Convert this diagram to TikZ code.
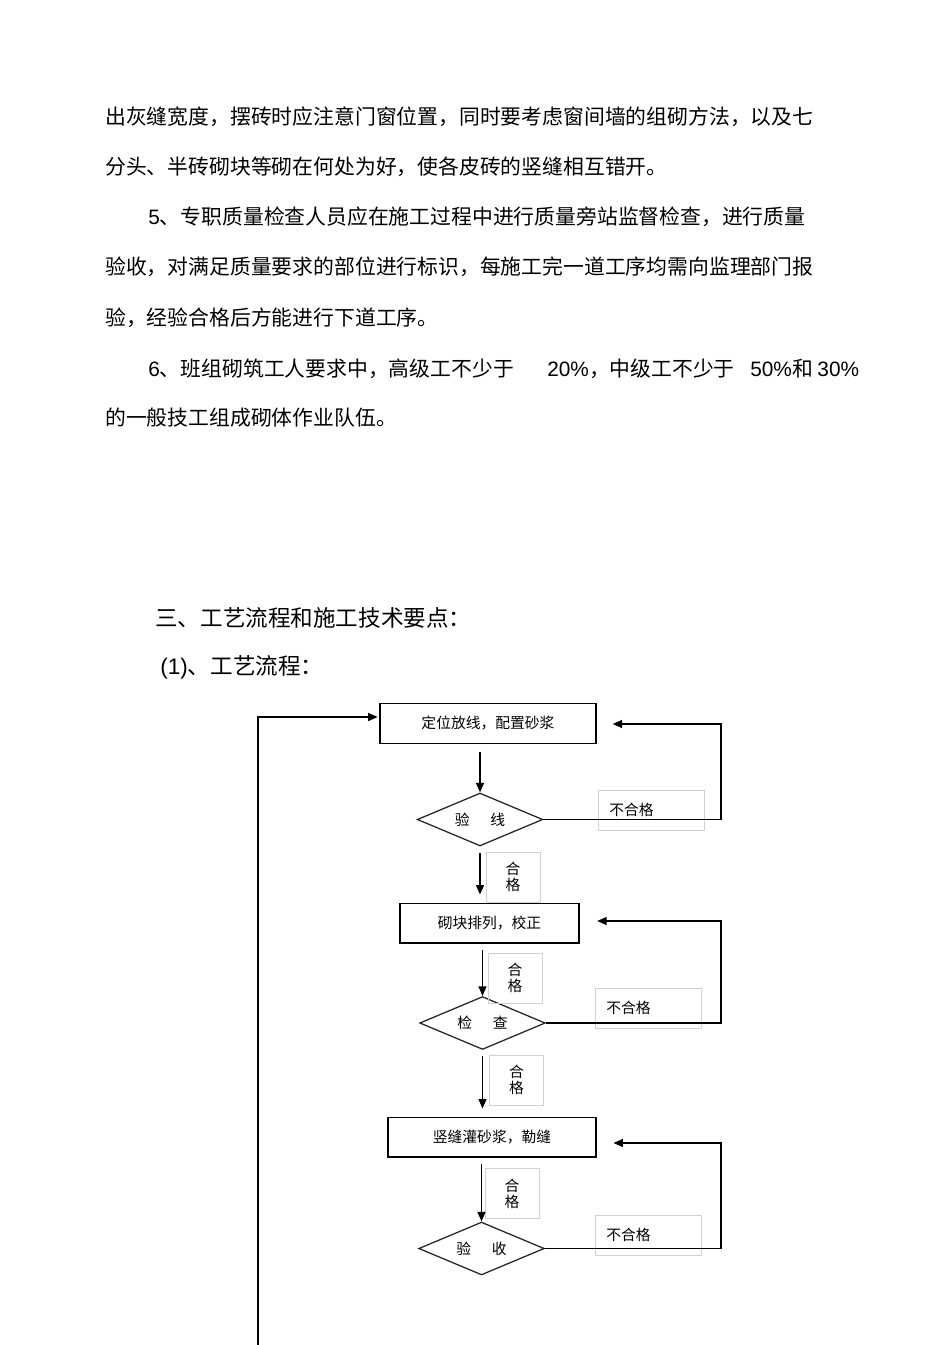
\documentclass[tikz,border=0pt]{standalone}
\usepackage{fontspec}
\setmainfont{Noto Sans CJK SC}
\newfontfamily\latinfont{Liberation Sans}
\usetikzlibrary{shapes.geometric, arrows.meta, positioning}

\begin{document}
\begin{tikzpicture}[
    x=0.022105cm, y=-0.022105cm,
    >={Triangle[length=6pt, width=5pt]},
    every node/.style={inner sep=0pt},
    bodytext/.style={anchor=west, font=\fontsize{13.1}{13.1}\selectfont},
    headtext/.style={anchor=west, font=\fontsize{14.2}{14.2}\selectfont},
    stepbox/.style={rectangle, draw=black, line width=0.8pt, minimum height=25pt,
        font=\fontsize{9.3}{10}\selectfont},
    checknode/.style={diamond, aspect=2.4, draw=black!85, line width=0.8pt, minimum width=79pt,
        minimum height=33.3pt, font=\fontsize{9.3}{10}\selectfont},
    passlabel/.style={rectangle, draw=black!18, line width=0.4pt, minimum width=34pt,
        minimum height=31.4pt, align=center, font=\fontsize{9.3}{10}\selectfont},
    faillabel/.style={rectangle, draw=black!18, line width=0.4pt, text width=53pt,
        inner xsep=7pt, minimum height=25pt, align=left, font=\fontsize{9.3}{10}\selectfont},
    flow/.style={->, line width=0.9pt},
]
\useasboundingbox (0,0) rectangle (950,1345);

% === BODY TEXT ===
\node[bodytext] (p1) at (105,117) {出灰缝宽度，摆砖时应注意门窗位置，同时要考虑窗间墙的组砌方法，以及七};
\node[bodytext] (p2) at (105,167) {分头、半砖砌块等砌在何处为好，使各皮砖的竖缝相互错开。};
\node[bodytext] (p3) at (148,217) {{\latinfont 5}、专职质量检查人员应在施工过程中进行质量旁站监督检查，进行质量};
\node[bodytext] (p4) at (105,267) {验收，对满足质量要求的部位进行标识，每施工完一道工序均需向监理部门报};
\node[bodytext] (p5) at (105,318) {验，经验合格后方能进行下道工序。};
\node[bodytext] (p6a) at (148,369) {{\latinfont 6}、班组砌筑工人要求中，高级工不少于};
\node[bodytext] (p6b) at (547,369) {{\latinfont 20\%}，中级工不少于};
\node[bodytext] (p6c) at (750,369) {{\latinfont 50\%}和 {\latinfont 30\%}};
\node[bodytext] (p7) at (105,418) {的一般技工组成砌体作业队伍。};

% === HEADINGS ===
\node[headtext] (h1) at (155,618) {三、工艺流程和施工技术要点：};
\node[headtext] (h2) at (160,667) {{\latinfont (1)}、工艺流程：};

% === FLOW STEPS ===
\node[stepbox, minimum width=136pt] (b1) at (488,723.5) {定位放线，配置砂浆};
\node[checknode] (d1) at (480,819.5) {验\hspace{1.4em}线};
\node[stepbox, minimum width=112.6pt] (b2) at (489.5,923) {砌块排列，校正};
\node[checknode] (d2) at (482.5,1023) {检\hspace{1.4em}查};
\node[stepbox, minimum width=131pt] (b3) at (492,1137) {竖缝灌砂浆，勒缝};
\node[checknode] (d3) at (481.5,1248.5) {验\hspace{1.4em}收};

% === LABELS ===
\node[passlabel] (g1) at (513,877) {合\\格};
\node[passlabel] (g2) at (515,978) {合\\格};
\node[passlabel] (g3) at (516.5,1080) {合\\格};
\node[passlabel] (g4) at (512,1193.5) {合\\格};
\node[faillabel] (f1) at (651.5,810) {不合格};
\node[faillabel] (f2) at (648.5,1008) {不合格};
\node[faillabel] (f3) at (648.5,1235) {不合格};

% === DOWN ARROWS ===
\draw[flow, shorten <=5pt] (b1.south -| d1.north) -- (d1.north);
\draw[flow, shorten <=4pt, shorten >=5pt] (d1.south) -- (d1.south |- b2.north);
\draw[flow, shorten <=4pt] (b2.south -| d2.north) -- (d2.north);
\draw[flow, shorten <=4pt, shorten >=5pt] (d2.south) -- (d2.south |- b3.north);
\draw[flow, shorten <=4pt] (b3.south -| d3.north) -- (d3.north);

% === FEEDBACK LOOPS (right side) ===
\coordinate (r1) at (721,724);
\coordinate (r2) at (721,921);
\coordinate (r3) at (721,1143);
\draw[flow, shorten >=10pt] (d1.east) -| (r1) -- (b1.east |- r1);
\draw[flow, shorten >=11pt] (d2.east) -| (r2) -- (b2.east |- r2);
\draw[flow, shorten >=10.5pt] (d3.east) -| (r3) -- (b3.east |- r3);

% === RETURN LINE (left side) ===
\coordinate (lt) at (258,717);
\coordinate (lb) at (258,1345);
\draw[flow, shorten >=1pt] (lb) -- (lt) -- (b1.west |- lt);

\end{tikzpicture}
\end{document}
